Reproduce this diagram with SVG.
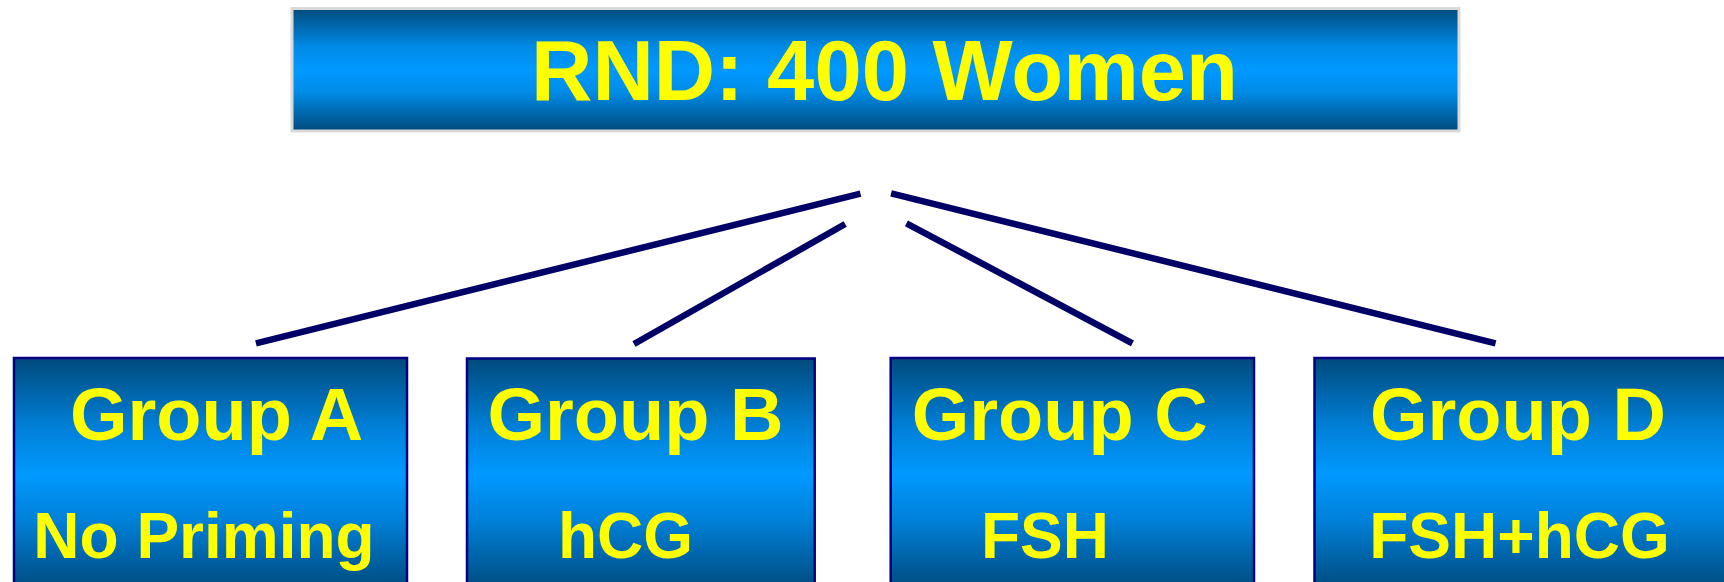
<svg xmlns="http://www.w3.org/2000/svg" width="1724" height="582" viewBox="0 0 1724 582">
<defs>
<linearGradient id="gTop" x1="0" y1="0" x2="0" y2="1">
<stop offset="0" stop-color="#004a7c"/>
<stop offset="0.32" stop-color="#008ce8"/>
<stop offset="0.5" stop-color="#0099ff"/>
<stop offset="0.68" stop-color="#008ce8"/>
<stop offset="1" stop-color="#004a7c"/>
</linearGradient>
<linearGradient id="gBox" x1="0" y1="0" x2="0" y2="1">
<stop offset="0" stop-color="#004a7c"/>
<stop offset="0.3" stop-color="#0080d8"/>
<stop offset="0.5" stop-color="#0099ff"/>
<stop offset="0.7" stop-color="#0080d8"/>
<stop offset="1" stop-color="#004a7c"/>
</linearGradient>
</defs>
<style>
.box{fill:url(#gBox);stroke:#000080;stroke-width:2.5}
.t{font-family:"Liberation Sans",Arial,sans-serif;font-weight:bold;fill:#ffff00;text-anchor:middle}
.g{font-size:74px}
.s{font-size:64px}
.conn line{stroke:#000066;stroke-width:6.5;stroke-linecap:butt}
</style>
<rect width="1724" height="582" fill="#ffffff"/>
<g id="root">
<rect x="292" y="8.5" width="1167" height="122.5" fill="url(#gTop)" stroke="#d9d9d9" stroke-width="3"/>
<text class="t" x="884.5" y="100" font-size="85">RND: 400 Women</text>
</g>
<g id="connectors" class="conn">
<line x1="860.5" y1="193.7" x2="255.9" y2="343.3"/>
<line x1="845.2" y1="224" x2="634" y2="344"/>
<line x1="906.4" y1="223.3" x2="1132.4" y2="343.3"/>
<line x1="891.1" y1="193.3" x2="1495.6" y2="343.3"/>
</g>
<g id="groupA">
<rect class="box" x="14" y="358" width="393" height="232"/>
<text class="t g" x="216.5" y="440">Group A</text>
<text class="t s" x="204" y="558">No Priming</text>
</g>
<g id="groupB">
<rect class="box" x="467" y="358.5" width="347.7" height="232"/>
<text class="t g" x="635.5" y="440">Group B</text>
<text class="t s" x="625.5" y="558">hCG</text>
</g>
<g id="groupC">
<rect class="box" x="890.7" y="358" width="363.3" height="232"/>
<text class="t g" x="1059.7" y="440">Group C</text>
<text class="t s" x="1045" y="558">FSH</text>
</g>
<g id="groupD">
<rect class="box" x="1314.5" y="358" width="450" height="232"/>
<text class="t g" x="1518" y="440">Group D</text>
<text class="t s" x="1519.5" y="558">FSH+hCG</text>
</g>
</svg>
